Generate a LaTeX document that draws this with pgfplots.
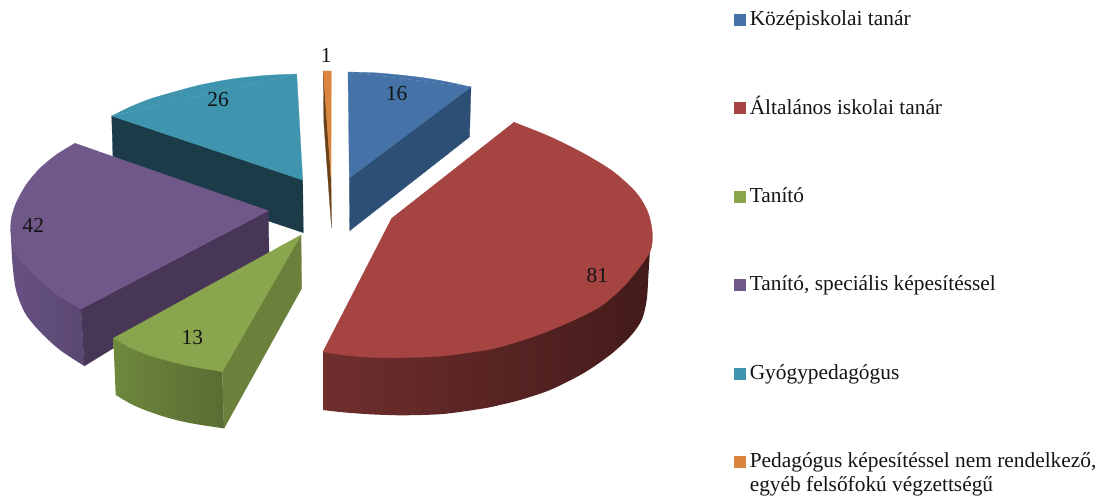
\documentclass[border=0pt]{standalone}
\usepackage{pgfplots}
\pgfplotsset{compat=1.18}
\usepackage{fontspec}
\setmainfont{Liberation Serif}
\definecolor{bluetop}{HTML}{4572A7}
\definecolor{blueside}{HTML}{2E4F75}
\definecolor{redtop}{HTML}{A64442}
\definecolor{redA}{HTML}{702E2E}
\definecolor{redB}{HTML}{431B1A}
\definecolor{greentop}{HTML}{89A54E}
\definecolor{greenside}{HTML}{6B803B}
\definecolor{greenA}{HTML}{6E883D}
\definecolor{greenB}{HTML}{5A6C33}
\definecolor{purpletop}{HTML}{71588A}
\definecolor{purpleside}{HTML}{483657}
\definecolor{purpleA}{HTML}{675283}
\definecolor{purpleB}{HTML}{5A4770}
\definecolor{tealtop}{HTML}{3F95AD}
\definecolor{tealside}{HTML}{1A3B47}
\definecolor{orangetop}{HTML}{DB843D}
\definecolor{orangeside}{HTML}{6B4218}
\newcommand{\poly}[2]{\addplot[fill=#1,draw=#1,line width=0.2pt] coordinates {#2} -- cycle;}
\newcommand{\arcf}[2]{\addplot[smooth,fill=#1,draw=#1,line width=0.2pt] coordinates {#2};}
\newcommand{\fs}{\fontsize{16.03}{18}\selectfont\color{black!92}}
\begin{document}
\begin{tikzpicture}
\useasboundingbox (0,0) rectangle (831.75pt,373.5pt);
\begin{axis}[
  scale only axis, width=831.75pt, height=373.5pt,
  xmin=0, xmax=1109, ymin=0, ymax=498, y dir=reverse,
  hide axis, clip=false]
% teal
\poly{tealside}{(111.7,116)(302.7,180)(303.3,232.7)(113.3,169)}
\poly{tealtop}{(296.7,74)(111.7,116)(302.7,180)}
\arcf{tealtop}{(296.7,74)(265,75.5)(232,79)(200,85)(172,92.5)(150,99)(130,107)(111.7,116)}
% purple
\addplot[smooth,left color=purpleA,right color=purpleB,draw=none] coordinates {(10.7,230)(12.3,262)(16,290)(25,313)(40,331.7)(60,350)(84.3,366)} -- (axis cs:81,309) -- (axis cs:40,280) -- cycle;
\poly{purpleside}{(81,309)(268.3,210.7)(269,252.7)(84.3,366)}
\poly{purpletop}{(75,143.3)(10.7,230)(81,309)(268.3,210.7)}
\arcf{purpletop}{(75,143.3)(56.7,154.5)(40,168.3)(26.7,184)(16.7,201.7)(11.7,216.7)(10.7,230)(13.3,246.7)(23.3,263.3)(40,280.5)(60,296.7)(81,309)}
% green
\addplot[smooth,left color=greenA,right color=greenB,draw=none] coordinates {(115.7,395)(132,404.5)(150,412)(167,417.5)(183.3,421.7)(203,425.3)(224,428.3)} -- (axis cs:222.3,371.7) -- (axis cs:113.3,338.3) -- cycle;
\poly{greenside}{(222.3,371.7)(301,235)(301.7,288.3)(224,428.3)}
\poly{greentop}{(301,235)(113.3,338.3)(222.3,371.7)}
\arcf{greentop}{(113.3,338.3)(131,348)(150,355.5)(167,360.5)(183.3,364.7)(203,368.5)(222.3,371.7)}
% orange
\poly{orangeside}{(323.3,71)(331,178)(331.5,228)(323.8,122)}
\poly{orangetop}{(323.3,71)(331.3,71)(331,178)}
% blue
\poly{blueside}{(349.3,178)(471,87)(469.5,137)(349.7,230.7)}
\poly{bluetop}{(348,72)(471,87)(349.3,178)}
\arcf{bluetop}{(348,72)(375,72.8)(400,75)(425,78)(448,82)(471,87)}
% red
\addplot[smooth,left color=redA,middle color=redB,right color=redB,draw=none] coordinates {(323,410)(343,412.3)(370,414.3)(403,415.3)(443,414)(483,408.5)(500,405)(520,400)(550,390)(583.3,373.3)(610,355)(630,336.7)(641.7,320)(646.7,300)(648.3,276.7)(650,250)} -- (axis cs:651,240) -- (axis cs:403,300) -- (axis cs:323,351.7) -- cycle;
\poly{redtop}{(514,122.3)(652.3,233.3)(323,351.7)(391.7,218.3)}
\arcf{redtop}{(514,122.3)(550,136.7)(583.3,153.3)(613.3,171.7)(636.7,193.3)(648.3,213.3)(652.3,233.3)(650.7,250)(640,266.7)(623.3,286.7)(600,306.7)(566.7,323.3)(533.3,336.7)(500,347)(483,350.5)(443,356)(403,357.7)(370,357.3)(343,355)(323,351.7)}
% legend swatches
\poly{bluetop}{(734,14.3)(745,14.3)(745,25)(734,25)}
\poly{redtop}{(734,102)(745,102)(745,113)(734,113)}
\poly{greentop}{(734,191)(745,191)(745,202)(734,202)}
\poly{purpletop}{(734,279.3)(745,279.3)(745,290)(734,290)}
\poly{tealtop}{(734,368.3)(745,368.3)(745,379)(734,379)}
\poly{orangetop}{(734,456)(745,456)(745,467)(734,467)}
% data labels
\node[inner sep=0pt] at (axis cs:396.7,93.3) {\fs 16};
\node[inner sep=0pt] at (axis cs:597.3,275) {\fs 81};
\node[inner sep=0pt] at (axis cs:192.3,337.3) {\fs 13};
\node[inner sep=0pt] at (axis cs:33.3,225.7) {\fs 42};
\node[inner sep=0pt] at (axis cs:218,99.3) {\fs 26};
\node[inner sep=0pt] at (axis cs:326.3,55) {\fs 1};
% legend text
\node[inner sep=0pt,anchor=base west] at (axis cs:749.5,26) {\fs Középiskolai tanár};
\node[inner sep=0pt,anchor=base west] at (axis cs:749.5,114.3) {\fs Általános iskolai tanár};
\node[inner sep=0pt,anchor=base west] at (axis cs:749.5,202.3) {\fs Tanító};
\node[inner sep=0pt,anchor=base west] at (axis cs:749.5,290.7) {\fs Tanító, speciális képesítéssel};
\node[inner sep=0pt,anchor=base west] at (axis cs:749.5,379.3) {\fs Gyógypedagógus};
\node[inner sep=0pt,anchor=base west] at (axis cs:749.5,467.7) {\fs Pedagógus képesítéssel nem rendelkező,};
\node[inner sep=0pt,anchor=base west] at (axis cs:749.5,491.7) {\fs egyéb felsőfokú végzettségű};
\end{axis}
\end{tikzpicture}
\end{document}
